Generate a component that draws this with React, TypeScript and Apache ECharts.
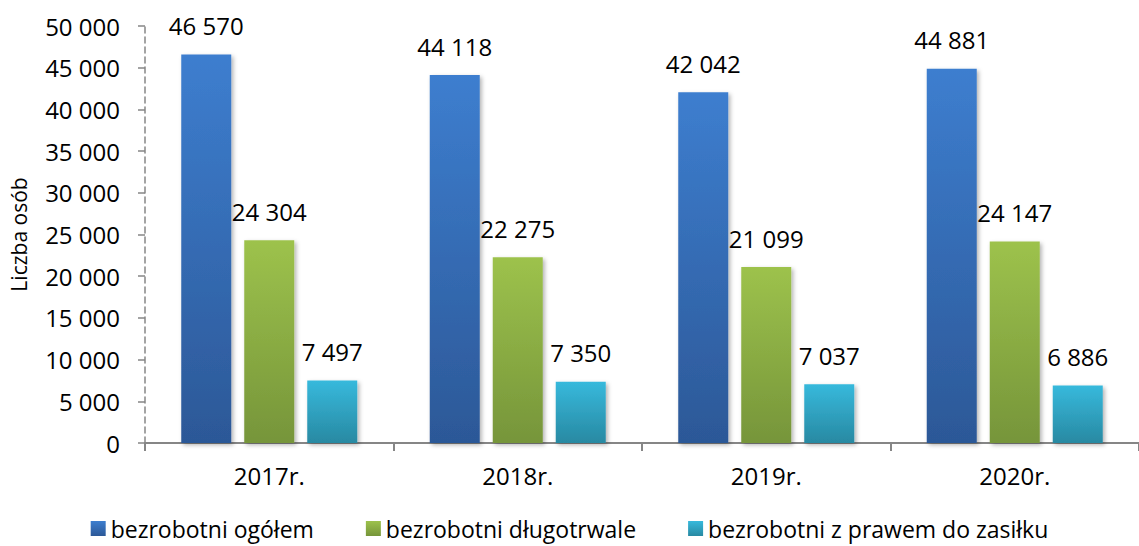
import React, { useEffect, useRef } from "react";
import * as echarts from "echarts";

const categories = ["2017r.", "2018r.", "2019r.", "2020r."];
const ogolem = [46570, 44118, 42042, 44881];
const dlugotrwale = [24304, 22275, 21099, 24147];
const zasilek = [7497, 7350, 7037, 6886];
const seriesNames = ["bezrobotni ogółem", "bezrobotni długotrwale", "bezrobotni z prawem do zasiłku"];

const FONT = "'Open Sans', 'Noto Sans', sans-serif";
const fmt = (v: number) => String(v).replace(/\B(?=(\d{3})+(?!\d))/g, " ");

const grad = (top: string, bottom: string) =>
  new echarts.graphic.LinearGradient(0, 0, 0, 1, [
    { offset: 0, color: top },
    { offset: 1, color: bottom },
  ]);

export default function App() {
  const ref = useRef<HTMLDivElement>(null);
  useEffect(() => {
    if (!ref.current) return;
    const chart = echarts.init(ref.current, undefined, { renderer: "svg" });
    const colors = [
      grad("#3D7ECF", "#2C5897"),
      grad("#9DC24C", "#76953A"),
      grad("#37B9DC", "#2889A2"),
    ];
    const mk = (name: string, data: number[], i: number) => ({
      name,
      type: "bar",
      data,
      barWidth: 50,
      barGap: "26%",
      itemStyle: {
        color: colors[i],
        shadowBlur: 4,
        shadowColor: "rgba(0,0,0,0.3)",
        shadowOffsetX: 2,
        shadowOffsetY: 2,
      },
      label: {
        show: true,
        position: "top",
        distance: 17,
        color: "#000",
        fontFamily: FONT,
        fontSize: 24,
        formatter: (p: any) => fmt(p.value),
      },
    });
    chart.setOption({
      animation: false,
      backgroundColor: "#fff",
      textStyle: { fontFamily: FONT },
      grid: { left: 141, right: -13, top: 26, bottom: 103, containLabel: false },
      legend: {
        bottom: 1,
        left: "center",
        icon: "rect",
        itemWidth: 15,
        itemHeight: 15,
        itemGap: 52,
        textStyle: { fontFamily: FONT, fontSize: 23, color: "#000" },
        data: seriesNames,
      },
      xAxis: {
        type: "category",
        data: categories,
        boundaryGap: true,
        axisLine: { lineStyle: { color: "#868686", width: 2 } },
        axisTick: { show: true, length: 8, lineStyle: { color: "#868686", width: 2 } },
        axisLabel: { color: "#000", fontSize: 24, fontFamily: FONT, margin: 20 },
      },
      yAxis: {
        type: "value",
        min: 0,
        max: 50000,
        interval: 5000,
        name: "Liczba osób",
        nameLocation: "middle",
        nameGap: 116,
        nameRotate: 90,
        nameTextStyle: { color: "#000", fontSize: 21, fontFamily: FONT },
        axisLine: { show: true, lineStyle: { color: "#868686", type: [6, 4], width: 1.5 } },
        axisTick: { show: true, length: 7, lineStyle: { color: "#868686", width: 1.5 } },
        axisLabel: { color: "#000", fontSize: 24, fontFamily: FONT, margin: 25, formatter: (v: number) => fmt(v) },
        splitLine: { show: false },
      },
      series: [mk(seriesNames[0], ogolem, 0), mk(seriesNames[1], dlugotrwale, 1), mk(seriesNames[2], zasilek, 2)],
    });
    return () => chart.dispose();
  }, []);
  return <div ref={ref} style={{ position: "absolute", left: 0, top: 0, width: 1139, height: 546 }} />;
}
